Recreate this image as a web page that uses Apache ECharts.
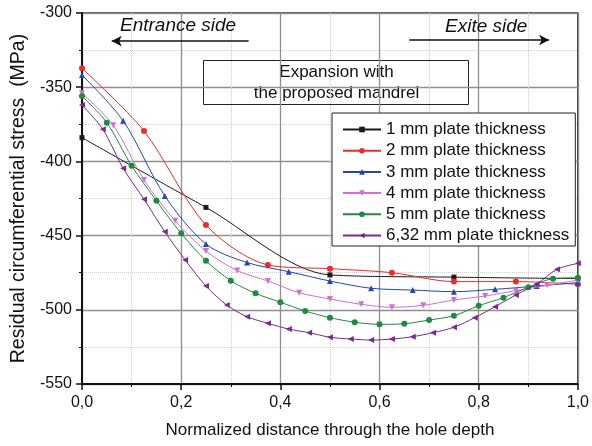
<!DOCTYPE html>
<html>
<head>
<meta charset="utf-8">
<script src="https://cdn.jsdelivr.net/npm/echarts@6/dist/echarts.min.js"></script>
<style>
  html, body { margin: 0; padding: 0; background: #fff; }
  #stressChart { width: 592px; height: 446px; }
</style>
</head>
<body>
<div id="stressChart"></div>
<script>
// 数据
const seriesNames = [
  '1 mm plate thickness',
  '2 mm plate thickness',
  '3 mm plate thickness',
  '4 mm plate thickness',
  '5 mm plate thickness',
  '6,32 mm plate thickness'
]

const x1 = [0, 0.25, 0.5, 0.75, 1]
const y1 = [-384, -431, -476.5, -478, -479]

const x2 = [0, 0.125, 0.25, 0.375, 0.5, 0.625, 0.75, 0.875, 1]
const y2 = [-337.3, -379.5, -442.9, -469.8, -472.3, -475, -481, -481, -482.8]

const x3 = [0, 0.083, 0.167, 0.25, 0.333, 0.417, 0.5, 0.583, 0.667, 0.75, 0.833, 0.917, 1]
const y3 = [-341.8, -372.6, -423.3, -455.7, -468.2, -474.3, -480.6, -485.5, -486.7, -487.8, -486.2, -484, -481.7]

const x4 = [0, 0.063, 0.125, 0.188, 0.25, 0.313, 0.375, 0.438, 0.5, 0.563, 0.625, 0.688, 0.75, 0.813, 0.875, 0.938, 1]
const y4 = [-354, -375.7, -412.5, -440, -460.4, -473.6, -480.6, -488.5, -492.7, -496.3, -498.3, -497, -493.4, -490.7, -487.1, -483.5, -480]

const x5 = [0, 0.05, 0.1, 0.15, 0.2, 0.25, 0.3, 0.35, 0.4, 0.45, 0.5, 0.55, 0.6, 0.65, 0.7, 0.75, 0.8, 0.85, 0.9, 0.95, 1]
const y5 = [-356, -373.9, -402.9, -426.5, -448.5, -466.9, -480.4, -488.9, -494.9, -500.8, -505.3, -508.4, -509.8, -509.4, -506.9, -504, -497.2, -491.8, -484.8, -479, -478.4]

const x6 = [0, 0.042, 0.083, 0.125, 0.167, 0.208, 0.25, 0.292, 0.333, 0.375, 0.417, 0.458, 0.5, 0.542, 0.583, 0.625, 0.667, 0.708, 0.75, 0.792, 0.833, 0.875, 0.917, 0.958, 1]
const y6 = [-362, -378.4, -404.7, -425.5, -447.4, -466.4, -484, -496.8, -504.7, -509.1, -513, -515.4, -518.5, -519.7, -520.4, -519.7, -518.1, -515.4, -511.8, -505.3, -497.9, -490, -482.6, -472.7, -468.7]

const yTicks = [-550, -500, -450, -400, -350, -300]
const xTicks = [0, 0.2, 0.4, 0.6, 0.8, 1]

// arrows: [xFrom, xTo, y]
const entranceArrow = [0.336, 0.06, -318.9]
const exitArrow = [0.66, 0.942, -318.2]

const font = '"Liberation Sans", Arial, sans-serif'

const seriesStyle = [
  { color: '#1a1a1a', symbol: 'rect', size: 5, rotate: 0 },
  { color: '#ee2a2a', symbol: 'circle', size: 6, rotate: 0 },
  { color: '#2445b5', symbol: 'triangle', size: 6, rotate: 0 },
  { color: '#d070d0', symbol: 'triangle', size: 6, rotate: 180 },
  { color: '#1e8b3c', symbol: 'circle', size: 6, rotate: 0 },
  { color: '#7a2a8c', symbol: 'triangle', size: 6, rotate: 90 }
]

const xs = [x1, x2, x3, x4, x5, x6]
const ys = [y1, y2, y3, y4, y5, y6]

const zip = (a, b) => a.map((v, i) => [v, b[i]])

const series = seriesNames.map((name, i) => {
  const st = seriesStyle[i]
  const s = {
    name: name,
    type: 'line',
    data: zip(xs[i], ys[i]),
    smooth: 0.3,
    symbol: st.symbol,
    symbolSize: st.size,
    symbolRotate: st.rotate,
    showAllSymbol: true,
    lineStyle: { color: st.color, width: 1 },
    itemStyle: { color: st.color },
    emphasis: { disabled: true },
    z: 3 + i
  }
  if (i === 0) {
    s.markLine = {
      silent: true,
      symbol: ['none', 'arrow'],
      symbolSize: [8, 10],
      label: { show: false },
      lineStyle: { color: '#111', width: 1.6, type: 'solid' },
      data: [
        [{ coord: [entranceArrow[0], entranceArrow[2]] }, { coord: [entranceArrow[1], entranceArrow[2]] }],
        [{ coord: [exitArrow[0], exitArrow[2]] }, { coord: [exitArrow[1], exitArrow[2]] }]
      ]
    }
  }
  return s
})

const chartOption = {
  animation: false,
  backgroundColor: '#fff',
  grid: {
    left: 82,
    right: 10,
    top: 13,
    bottom: 62,
    show: true,
    borderColor: '#222',
    borderWidth: 1.5
  },
  legend: {
    data: seriesNames,
    orient: 'vertical',
    left: 332,
    top: 113,
    backgroundColor: '#fff',
    borderColor: '#222',
    borderWidth: 1,
    borderRadius: 0,
    padding: [8, 6, 2, 10],
    itemWidth: 38,
    itemHeight: 7,
    itemGap: 4.2,
    textStyle: { fontFamily: font, fontSize: 17, color: '#111', lineHeight: 16 }
  },
  xAxis: {
    type: 'value',
    min: 0,
    max: 1,
    interval: 0.2,
    name: 'Normalized distance through the hole depth',
    nameLocation: 'middle',
    nameGap: 38,
    nameTextStyle: { fontFamily: font, fontSize: 17, color: '#111' },
    axisLine: { show: true, lineStyle: { color: '#111', width: 2 } },
    axisTick: { show: true, length: 6, lineStyle: { color: '#111', width: 1.5 } },
    minorTick: { show: true, splitNumber: 2, length: 3, lineStyle: { color: '#111' } },
    axisLabel: {
      fontFamily: font,
      fontSize: 16,
      color: '#111',
      margin: 11,
      formatter: (v) => v.toFixed(1).replace('.', ',')
    },
    splitLine: { show: true, lineStyle: { color: '#8f8f8f', width: 1.3 } },
    minorSplitLine: { show: true, lineStyle: { color: '#cfcfcf', type: 'dotted', width: 1 } }
  },
  yAxis: {
    type: 'value',
    min: yTicks[0],
    max: yTicks[yTicks.length - 1],
    interval: 50,
    name: 'Residual circumferential stress  (MPa)',
    nameLocation: 'middle',
    nameGap: 51,
    nameTextStyle: { fontFamily: font, fontSize: 19.5, color: '#111' },
    axisLine: { show: true, lineStyle: { color: '#111', width: 2 } },
    axisTick: { show: true, length: 6, lineStyle: { color: '#111', width: 1.5 } },
    minorTick: { show: true, splitNumber: 2, length: 3, lineStyle: { color: '#111' } },
    axisLabel: { fontFamily: font, fontSize: 16, color: '#111', margin: 10 },
    splitLine: { show: true, lineStyle: { color: '#8f8f8f', width: 1.3 } },
    minorSplitLine: { show: true, lineStyle: { color: '#cfcfcf', type: 'dotted', width: 1 } }
  },
  graphic: [
    {
      type: 'text',
      left: 120,
      top: 16,
      style: { text: 'Entrance side', fontFamily: font, fontSize: 19, fontStyle: 'italic', fill: '#111' },
      z: 10
    },
    {
      type: 'text',
      left: 445,
      top: 17,
      style: { text: 'Exite side', fontFamily: font, fontSize: 19, fontStyle: 'italic', fill: '#111' },
      z: 10
    },
    {
      type: 'group',
      left: 203,
      top: 60,
      z: 10,
      children: [
        {
          type: 'rect',
          shape: { x: 0, y: 0, width: 265, height: 44 },
          style: { fill: '#fff', stroke: '#222', lineWidth: 1 }
        },
        {
          type: 'text',
          x: 133,
          y: 1,
          style: {
            text: 'Expansion with\nthe proposed mandrel',
            fontFamily: font,
            fontSize: 17,
            lineHeight: 21,
            align: 'center',
            fill: '#111'
          }
        }
      ]
    }
  ],
  series: series
}

const myChart = echarts.init(document.getElementById('stressChart'))
myChart.setOption(chartOption)
</script>
</body>
</html>
